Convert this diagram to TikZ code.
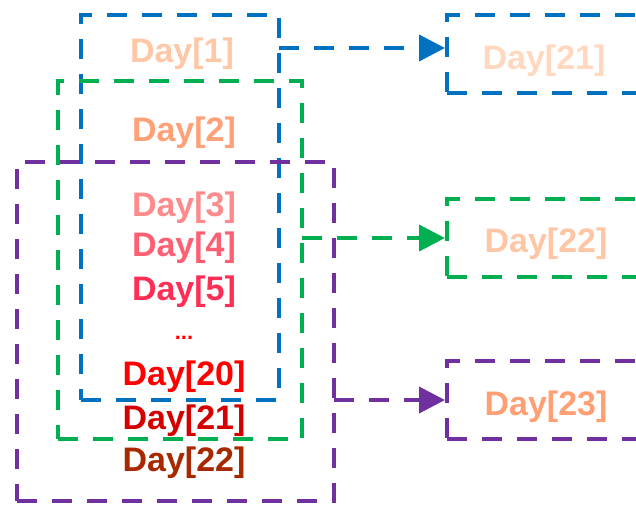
\documentclass[tikz,border=0pt]{standalone}
\usepackage{fontspec}
\setmainfont{Liberation Sans}
\usetikzlibrary{arrows.meta}
\definecolor{cblue}{HTML}{0070C0}
\definecolor{cgreen}{HTML}{00B050}
\definecolor{cpurple}{HTML}{7030A0}
\definecolor{t1}{HTML}{FFC7A6}
\definecolor{t2}{HTML}{FFA077}
\definecolor{t3}{HTML}{FF8A8C}
\definecolor{t4}{HTML}{FF5F72}
\definecolor{t5}{HTML}{FF2E55}
\definecolor{t20}{HTML}{FF0000}
\definecolor{t21}{HTML}{D40000}
\definecolor{t22}{HTML}{A82800}
\definecolor{r21}{HTML}{FFD8BF}
\definecolor{r22}{HTML}{FFC6A6}
\definecolor{r23}{HTML}{FFA074}
\tikzset{
  box/.style={draw, line width=4pt, dash pattern=on 20pt off 15pt, inner sep=0pt},
  lbl/.style={font=\bfseries\fontsize{34}{40}\selectfont, inner sep=0pt},
  link/.style={line width=4pt, dash pattern=on 20pt off 15pt, -{Triangle[length=26pt,width=26pt]}}
}
\begin{document}
\begin{tikzpicture}[x=1pt,y=-1pt]
\useasboundingbox (0,0) rectangle (636,504);
\clip (0,0) rectangle (636,504);
% left boxes
\node[box, cblue, minimum width=198pt, minimum height=385pt] (bb) at (180,207.5) {};
\node[box, cgreen, minimum width=244pt, minimum height=358pt] (gb) at (180,260) {};
\node[box, cpurple, minimum width=317pt, minimum height=339pt] (pb) at (175.5,331.5) {};
% right boxes
\node[box, cblue, minimum width=300pt, minimum height=78pt, anchor=west] (rb) at (445,54) {};
\node[box, cgreen, minimum width=300pt, minimum height=78pt, anchor=west] (rg) at (445,238) {};
\node[box, cpurple, minimum width=300pt, minimum height=78pt, anchor=west] (rp) at (445,400) {};
% labels
\node[lbl, text=t1] (d1) at (182,54) {Day[1]};
\node[lbl, text=t2] (d2) at (184,133) {Day[2]};
\node[lbl, text=t3] (d3) at (184,208) {Day[3]};
\node[lbl, text=t4] (d4) at (184,248) {Day[4]};
\node[lbl, text=t5] (d5) at (184,292) {Day[5]};
\node[lbl, text=t20, font=\bfseries\fontsize{22}{26}\selectfont] (dots) at (184,338) {...};
\node[lbl, text=t20] (d20) at (184,377) {Day[20]};
\node[lbl, text=t21] (d21) at (184,421) {Day[21]};
\node[lbl, text=t22] (d22) at (184,463) {Day[22]};
\node[lbl, text=r21] (e21) at (544,61) {Day[21]};
\node[lbl, text=r22] (e22) at (546,244) {Day[22]};
\node[lbl, text=r23] (e23) at (546,407) {Day[23]};
% connectors
\coordinate (ab) at (279,48);
\coordinate (ag) at (302,238);
\coordinate (ap) at (334,400);
\draw[link, cblue] (ab) -- (rb.west |- ab);
\draw[link, cgreen] (ag) -- (rg.west |- ag);
\draw[link, cpurple] (ap) -- (rp.west |- ap);
\end{tikzpicture}
\end{document}
